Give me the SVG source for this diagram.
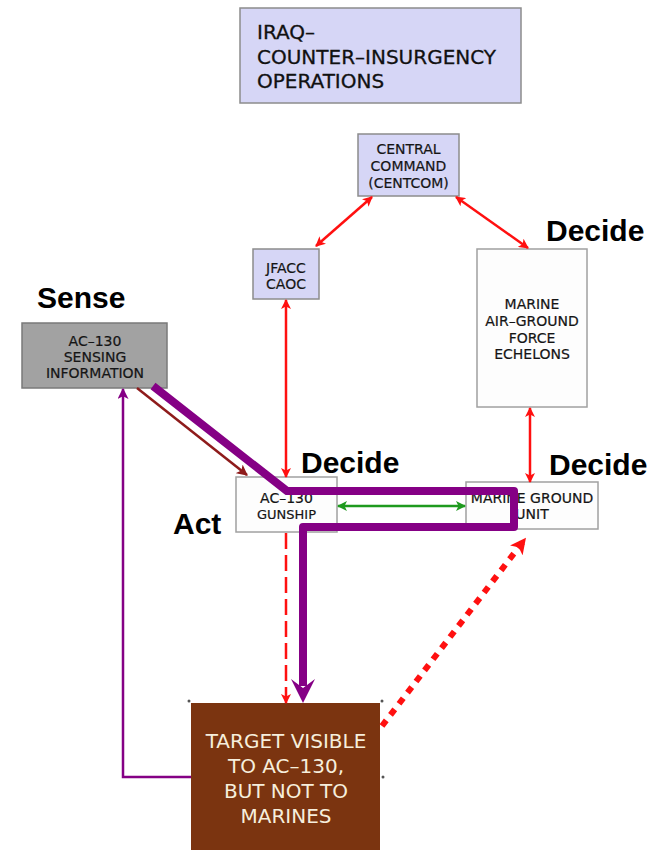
<svg xmlns="http://www.w3.org/2000/svg" width="660" height="852" viewBox="0 0 660 852">
  <style>
    .box { stroke: #8c8c8c; stroke-width: 1.5; }
    .lav { fill: #d6d6f6; }
    .white { fill: #fdfdfd; stroke: #a0a0a0; }
    .grey { fill: #a2a2a2; stroke: #7a7a7a; }
    .lbl { font-family: "DejaVu Sans", "Noto Sans", sans-serif; font-size: 14px; fill: #151515; text-anchor: middle; stroke: #151515; stroke-width: 0.2; }
    .title { font-family: "DejaVu Sans", "Noto Sans", sans-serif; font-size: 20px; fill: #111; stroke: #111; stroke-width: 0.3; }
    .tgt { font-family: "DejaVu Sans", "Noto Sans", sans-serif; font-size: 20px; fill: #f6eedc; text-anchor: middle; }
    .phase { font-family: "Liberation Sans", Arial, sans-serif; font-size: 30px; font-weight: bold; fill: #000; }
    .red { stroke: #ff1010; stroke-width: 2.5; fill: none; }
  </style>
  <defs>
    <marker id="ahRed" viewBox="0 0 10 10" refX="9" refY="5" markerWidth="10" markerHeight="10" markerUnits="userSpaceOnUse" orient="auto-start-reverse">
      <path d="M0,0 L10,5 L0,10 L2.5,5 Z" fill="#ff1010"/>
    </marker>
    <marker id="ahRedBig" viewBox="0 0 10 10" refX="9" refY="5" markerWidth="16" markerHeight="16" markerUnits="userSpaceOnUse" orient="auto">
      <path d="M0,0 L10,5 L0,10 L2.5,5 Z" fill="#ff1010"/>
    </marker>
    <marker id="ahGreen" viewBox="0 0 10 10" refX="9" refY="5" markerWidth="10" markerHeight="10" markerUnits="userSpaceOnUse" orient="auto-start-reverse">
      <path d="M0,0 L10,5 L0,10 L2.5,5 Z" fill="#1e9a1e"/>
    </marker>
    <marker id="ahDark" viewBox="0 0 10 10" refX="9" refY="5" markerWidth="11" markerHeight="11" markerUnits="userSpaceOnUse" orient="auto">
      <path d="M0,0 L10,5 L0,10 L2.5,5 Z" fill="#8e1b1b"/>
    </marker>
    <marker id="ahPurple" viewBox="0 0 10 10" refX="9" refY="5" markerWidth="11" markerHeight="11" markerUnits="userSpaceOnUse" orient="auto">
      <path d="M0,0 L10,5 L0,10 L2.5,5 Z" fill="#850085"/>
    </marker>
  </defs>

  <rect width="660" height="852" fill="#ffffff"/>

  <!-- nodes -->
  <g id="title">
    <rect class="box lav" x="240" y="8" width="281" height="95"/>
    <text class="title" x="257" y="39">IRAQ–</text>
    <text class="title" x="257" y="64">COUNTER–INSURGENCY</text>
    <text class="title" x="257" y="88">OPERATIONS</text>
  </g>

  <g id="centcom">
    <rect class="box lav" x="358" y="134" width="101" height="62"/>
    <text class="lbl" x="408.5" y="154">CENTRAL</text>
    <text class="lbl" x="408.5" y="171">COMMAND</text>
    <text class="lbl" x="408.5" y="188">(CENTCOM)</text>
  </g>

  <g id="jfacc">
    <rect class="box lav" x="253" y="249" width="66" height="50"/>
    <text class="lbl" x="286" y="273">JFACC</text>
    <text class="lbl" x="286" y="289">CAOC</text>
  </g>

  <g id="magtf">
    <rect class="box white" x="477" y="249" width="110" height="158"/>
    <text class="lbl" x="532" y="309">MARINE</text>
    <text class="lbl" x="532" y="326">AIR–GROUND</text>
    <text class="lbl" x="532" y="343">FORCE</text>
    <text class="lbl" x="532" y="359">ECHELONS</text>
  </g>

  <g id="sensing">
    <rect class="box grey" x="22" y="323" width="145" height="65"/>
    <text class="lbl" x="95" y="346">AC–130</text>
    <text class="lbl" x="95" y="362">SENSING</text>
    <text class="lbl" x="95" y="378">INFORMATION</text>
  </g>

  <g id="gunship">
    <rect class="box white" x="236" y="477" width="101" height="55"/>
    <text class="lbl" x="286.5" y="503">AC–130</text>
    <text class="lbl" x="286.5" y="519" style="font-size:13px">GUNSHIP</text>
  </g>

  <g id="ground-unit">
    <rect class="box white" x="466" y="482" width="132" height="47"/>
    <text class="lbl" x="532" y="503">MARINE GROUND</text>
    <text class="lbl" x="532" y="519">UNIT</text>
  </g>

  <g id="target">
    <rect x="191" y="703" width="189" height="147" fill="#7b3410"/>
    <text class="tgt" x="286" y="748">TARGET VISIBLE</text>
    <text class="tgt" x="286" y="773">TO AC–130,</text>
    <text class="tgt" x="286" y="798">BUT NOT TO</text>
    <text class="tgt" x="286" y="823">MARINES</text>
    <g fill="#555">
      <circle cx="189" cy="701" r="1.5"/>
      <circle cx="382" cy="701" r="1.5"/>
      <circle cx="383" cy="777" r="1.5"/>
    </g>
  </g>

  <!-- phase labels -->
  <g id="phases">
    <text class="phase" x="37" y="308">Sense</text>
    <text class="phase" x="546" y="241">Decide</text>
    <text class="phase" x="301" y="473">Decide</text>
    <text class="phase" x="549" y="475">Decide</text>
    <text class="phase" x="173" y="534">Act</text>
  </g>

  <!-- connectors -->
  <g id="connectors">
    <line class="red" x1="372" y1="197" x2="316" y2="246" marker-start="url(#ahRed)" marker-end="url(#ahRed)"/>
    <line class="red" x1="456" y1="197" x2="528" y2="248" marker-start="url(#ahRed)" marker-end="url(#ahRed)"/>
    <line class="red" x1="286" y1="300" x2="286" y2="477" marker-start="url(#ahRed)" marker-end="url(#ahRed)"/>
    <line class="red" x1="530" y1="408" x2="530" y2="482" marker-start="url(#ahRed)" marker-end="url(#ahRed)"/>
    <line class="red" x1="286" y1="533" x2="286" y2="703" stroke-dasharray="16 6" stroke-width="2" marker-end="url(#ahRed)"/>
    <line x1="338" y1="506" x2="465" y2="506" stroke="#1e9a1e" stroke-width="2.5" marker-start="url(#ahGreen)" marker-end="url(#ahGreen)"/>
    <line x1="137" y1="388" x2="247" y2="475" stroke="#8e1b1b" stroke-width="2.5" marker-end="url(#ahDark)"/>
    <polyline points="191,777 123,777 123,389" fill="none" stroke="#850085" stroke-width="2.5" marker-end="url(#ahPurple)"/>
    <line x1="382" y1="726" x2="525" y2="539" stroke="#ff1010" stroke-width="6" stroke-dasharray="7 7" marker-end="url(#ahRedBig)"/>
    <polyline points="153,386 287,491 514,491 514,527 303,527 303,686" fill="none" stroke="#850085" stroke-width="8" stroke-linejoin="round"/>
    <path d="M291,679 L303,703 L315,679 L303,688 Z" fill="#850085"/>
  </g>
</svg>
